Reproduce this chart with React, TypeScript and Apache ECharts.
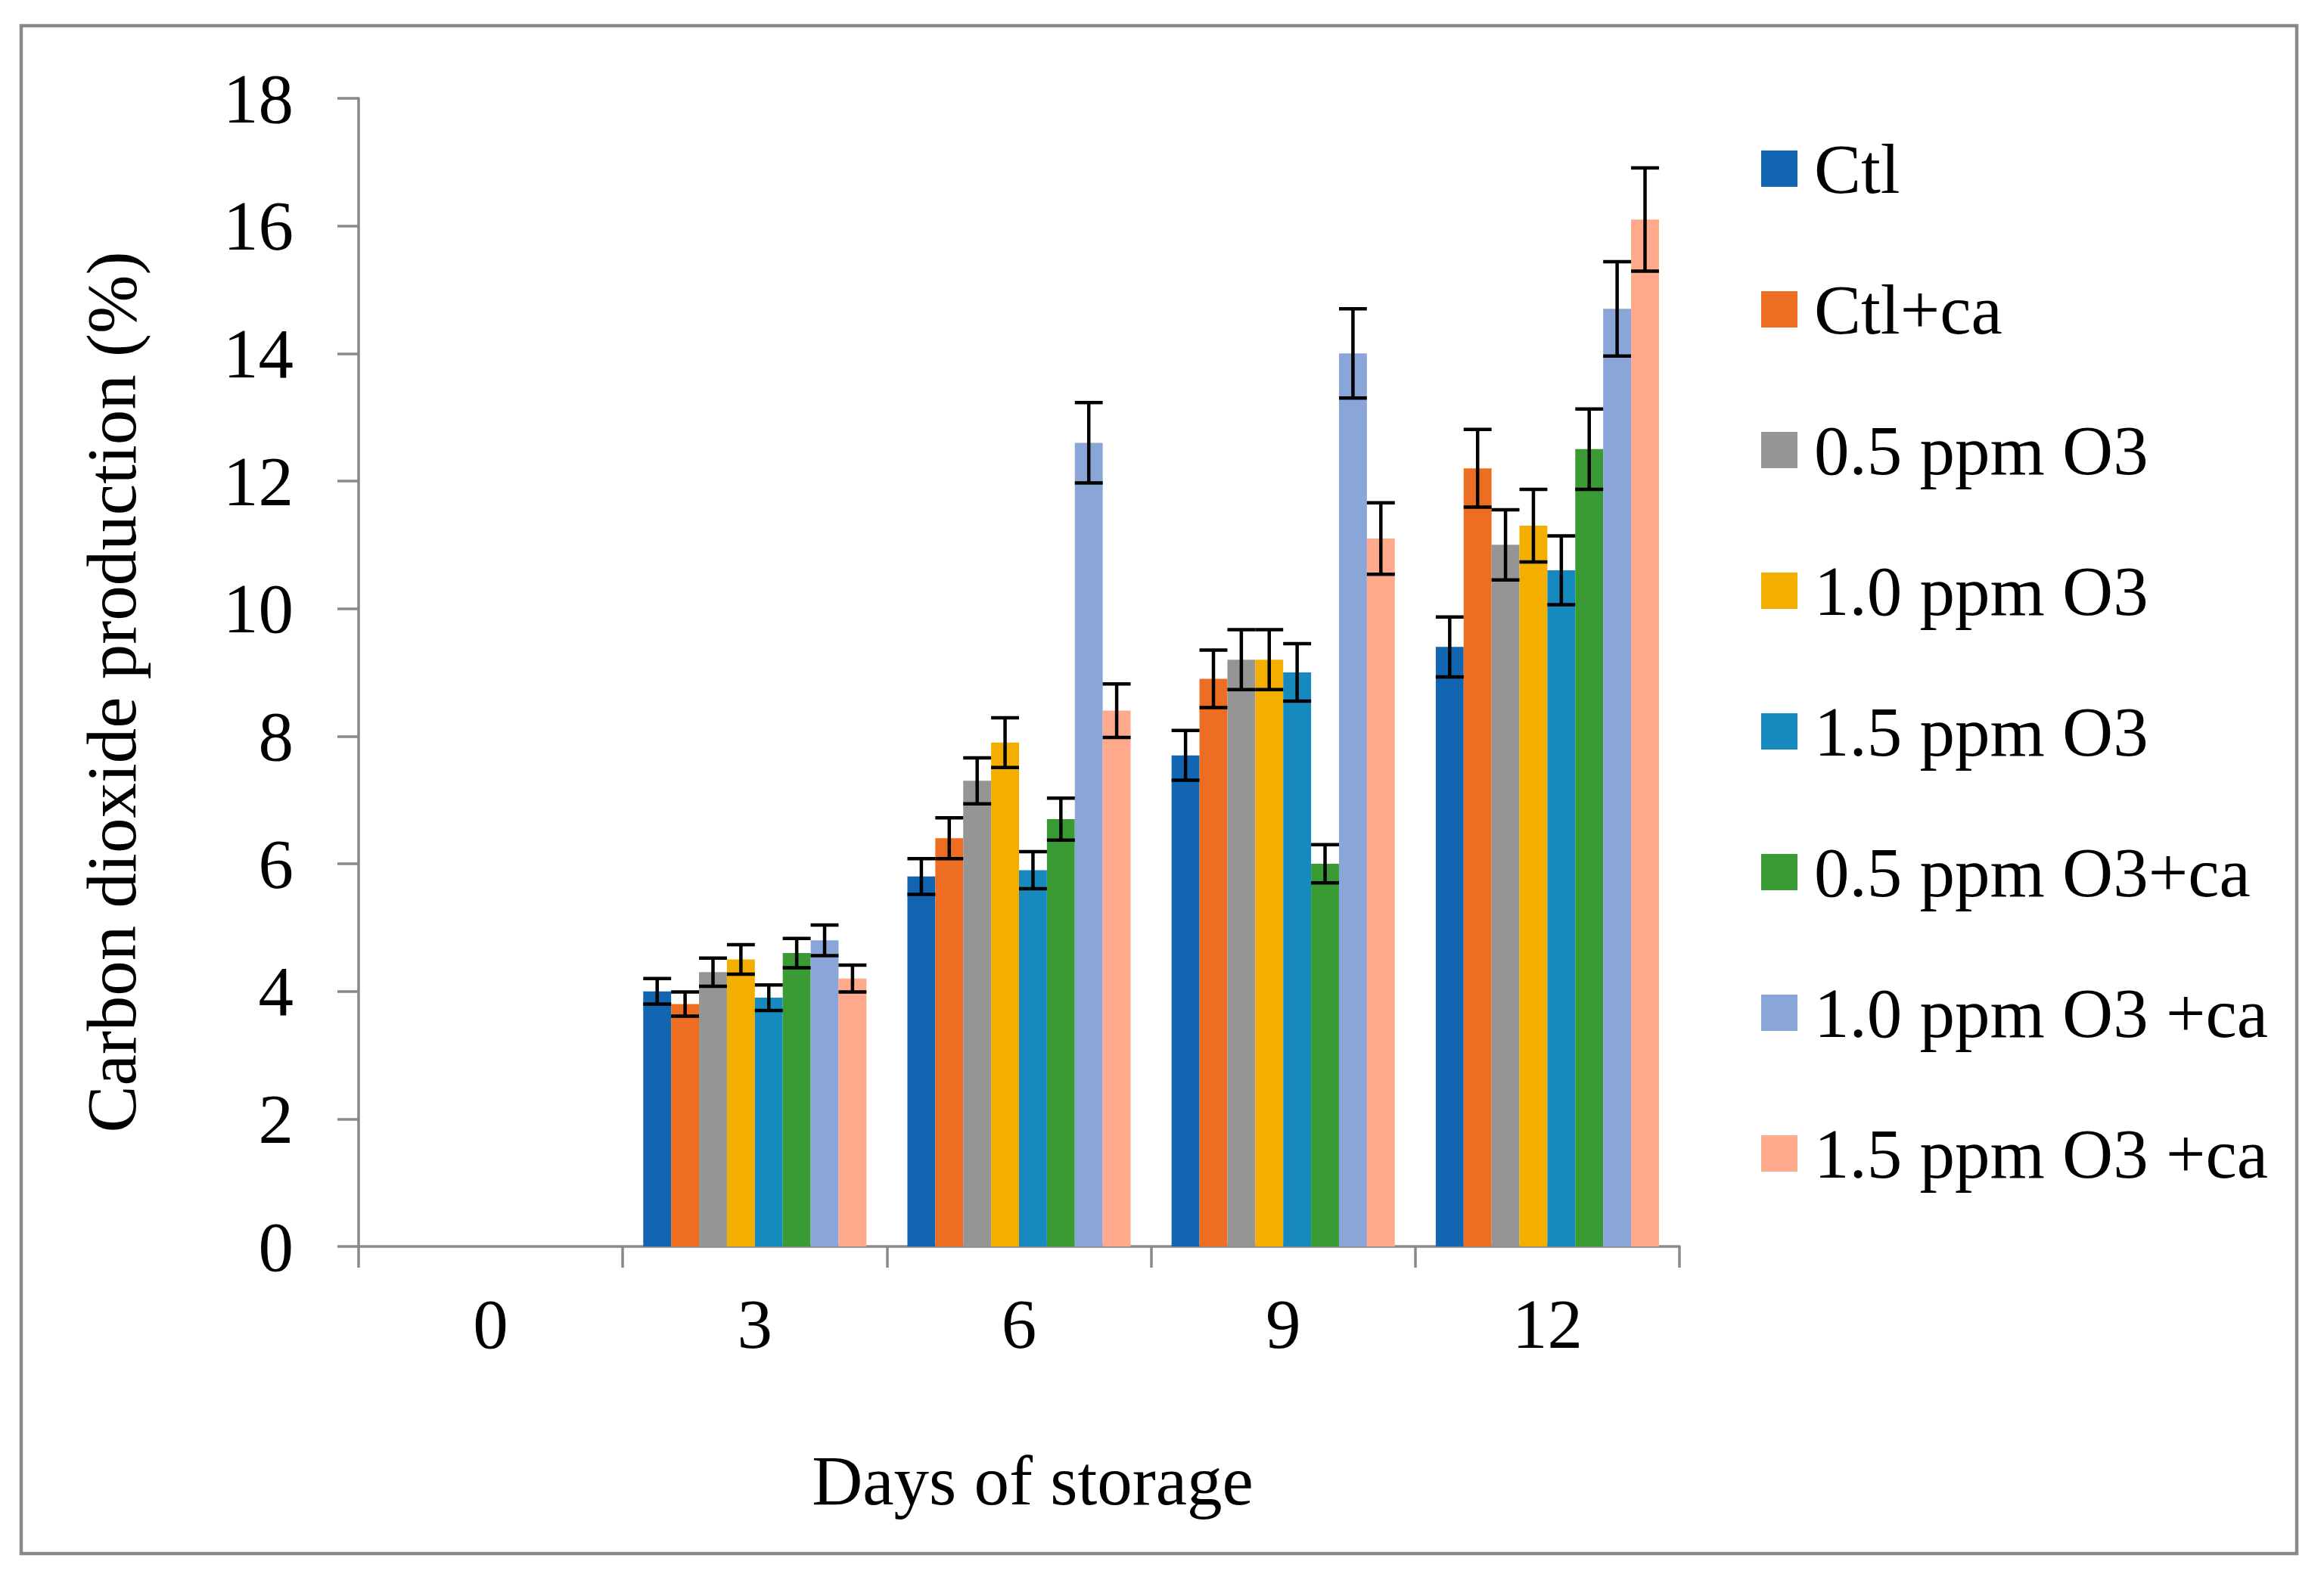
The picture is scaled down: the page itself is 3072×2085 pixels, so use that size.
import { useRef, useEffect } from 'react'
import * as echarts from 'echarts'

// days on the x axis
const DAYS = ['0', '3', '6', '9', '12']

const SERIES_NAMES = [
  'Ctl',
  'Ctl+ca',
  '0.5 ppm O3',
  '1.0 ppm O3',
  '1.5 ppm O3',
  '0.5 ppm O3+ca',
  '1.0 ppm O3 +ca',
  '1.5 ppm O3 +ca',
]

const COLORS = ['#1265b1', '#ed6e22', '#959595', '#f3ae00', '#1689bf', '#3a9a33', '#8aa5d8', '#ffaa8c']

// CO2 production (%) per day
const ctl = [0, 4.0, 5.8, 7.7, 9.4]
const ctlCa = [0, 3.8, 6.4, 8.9, 12.2]
const o05 = [0, 4.3, 7.3, 9.2, 11.0]
const o10 = [0, 4.5, 7.9, 9.2, 11.3]
const o15 = [0, 3.9, 5.9, 9.0, 10.6]
const o05Ca = [0, 4.6, 6.7, 6.0, 12.5]
const o10Ca = [0, 4.8, 12.6, 14.0, 14.7]
const o15Ca = [0, 4.2, 8.4, 11.1, 16.1]

// error bar half-lengths
const ctlErr = [0, 0.2, 0.28, 0.39, 0.47]
const ctlCaErr = [0, 0.19, 0.32, 0.45, 0.61]
const o05Err = [0, 0.22, 0.36, 0.47, 0.55]
const o10Err = [0, 0.23, 0.39, 0.47, 0.57]
const o15Err = [0, 0.2, 0.29, 0.45, 0.54]
const o05CaErr = [0, 0.23, 0.33, 0.3, 0.63]
const o10CaErr = [0, 0.24, 0.63, 0.7, 0.74]
const o15CaErr = [0, 0.21, 0.42, 0.56, 0.81]

const Y_TICKS = { min: 0, max: 18, interval: 2 }

const VALUES = [ctl, ctlCa, o05, o10, o15, o05Ca, o10Ca, o15Ca]
const ERRORS = [ctlErr, ctlCaErr, o05Err, o10Err, o15Err, o05CaErr, o10CaErr, o15CaErr]

const FONT = '"Liberation Serif", "Times New Roman", serif'
const AXIS_COLOR = '#898989'
const CAT_GAP = 0.155

export default function App() {
  const chartRef = useRef<HTMLDivElement>(null)

  useEffect(() => {
    document.body.style.margin = '0'
    document.body.style.overflow = 'hidden'
    if (!chartRef.current) return
    const chart = echarts.init(chartRef.current, undefined, { renderer: 'svg' })

    const errData: number[][] = []
    VALUES.forEach((vals, s) => {
      vals.forEach((v, c) => {
        if (ERRORS[s][c] > 0) errData.push([c, v, ERRORS[s][c], s])
      })
    })

    const barSeries = VALUES.map((vals, s) => ({
      name: SERIES_NAMES[s],
      type: 'bar',
      data: vals,
      barGap: '0%',
      barCategoryGap: `${CAT_GAP * 100}%`,
      itemStyle: { color: COLORS[s] },
      z: 2,
    }))

    const option: echarts.EChartsOption = {
      animation: false,
      backgroundColor: '#fff',
      textStyle: { fontFamily: FONT },
      grid: { left: 474, top: 130, width: 1746, height: 1518 },
      legend: {
        data: SERIES_NAMES,
        orient: 'vertical',
        left: 2328,
        top: 173,
        padding: 0,
        icon: 'rect',
        itemWidth: 48,
        itemHeight: 48,
        itemGap: 86,
        textStyle: {
          fontFamily: FONT,
          fontSize: 93,
          color: '#000',
          lineHeight: 100,
          padding: [0, 0, 0, 17],
        },
      },
      xAxis: {
        type: 'category',
        data: DAYS,
        axisLine: { lineStyle: { color: AXIS_COLOR, width: 3.5 } },
        axisTick: { show: true, length: 28, lineStyle: { color: AXIS_COLOR, width: 3.5 } },
        axisLabel: { fontFamily: FONT, fontSize: 93, color: '#000', margin: 56 },
      },
      yAxis: {
        type: 'value',
        min: Y_TICKS.min,
        max: Y_TICKS.max,
        interval: Y_TICKS.interval,
        axisLine: { show: true, lineStyle: { color: AXIS_COLOR, width: 3.5 } },
        axisTick: { show: true, length: 28, lineStyle: { color: AXIS_COLOR, width: 3.5 } },
        axisLabel: { fontFamily: FONT, fontSize: 93, color: '#000', margin: 86 },
        splitLine: { show: false },
      },
      graphic: [
        {
          type: 'rect',
          shape: { x: 28, y: 34, width: 3008, height: 2020 },
          style: { fill: 'none', stroke: AXIS_COLOR, lineWidth: 4.5 },
          silent: true,
        },
        {
          type: 'text',
          x: 147,
          y: 915,
          rotation: Math.PI / 2,
          style: {
            text: 'Carbon dioxide production (%)',
            fontFamily: FONT,
            fontSize: 93,
            fill: '#000',
            align: 'center',
            verticalAlign: 'middle',
          },
        },
        {
          type: 'text',
          x: 1365,
          y: 1957,
          style: {
            text: 'Days of storage',
            fontFamily: FONT,
            fontSize: 93,
            fill: '#000',
            align: 'center',
            verticalAlign: 'middle',
          },
        },
      ],
      series: [
        ...(barSeries as echarts.SeriesOption[]),
        {
          type: 'custom',
          name: 'err',
          data: errData,
          encode: { x: 0, y: 1 },
          z: 5,
          renderItem: (_params: unknown, api: any) => {
            const c = api.value(0)
            const v = api.value(1)
            const e = api.value(2)
            const s = api.value(3)
            const band = api.size([1, 0])[0]
            const groupW = band * (1 - CAT_GAP)
            const bw = groupW / VALUES.length
            const mid = api.coord([c, v])
            const x = mid[0] - groupW / 2 + (s + 0.5) * bw
            const yTop = api.coord([c, v + e])[1]
            const yBot = api.coord([c, v - e])[1]
            const half = bw / 2
            const style = { stroke: '#000', lineWidth: 4.5 }
            return {
              type: 'group',
              children: [
                { type: 'line', shape: { x1: x, y1: yTop, x2: x, y2: yBot }, style },
                { type: 'line', shape: { x1: x - half, y1: yTop, x2: x + half, y2: yTop }, style },
                { type: 'line', shape: { x1: x - half, y1: yBot, x2: x + half, y2: yBot }, style },
              ],
            }
          },
        } as echarts.SeriesOption,
      ],
    }

    chart.setOption(option)
    return () => {
      chart.dispose()
    }
  }, [])

  return <div ref={chartRef} style={{ width: 3072, height: 2085 }} />
}
